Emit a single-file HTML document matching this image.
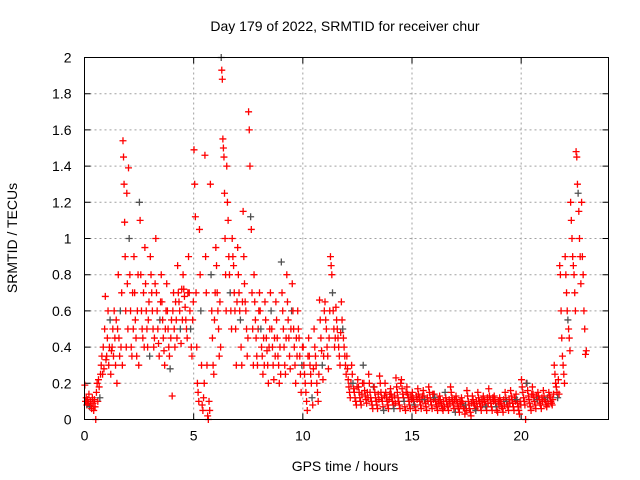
<!DOCTYPE html>
<html><head><meta charset="utf-8"><style>
body{margin:0;background:#fff}
svg{display:block;font-family:"Liberation Sans",sans-serif}
</style></head><body>
<svg id="chart" width="640" height="480" viewBox="0 0 640 480">
<text x="345" y="31" text-anchor="middle" font-size="14" fill="#000">Day 179 of 2022, SRMTID for receiver chur</text>
<text x="345" y="471" text-anchor="middle" font-size="14" fill="#000">GPS time / hours</text>
<text transform="translate(17,238) rotate(-90)" text-anchor="middle" font-size="14" fill="#000">SRMTID / TECUs</text>
<g id="grid"></g>
<g id="ticks"></g>
<g id="marks"></g>
<rect x="84.5" y="57.5" width="524" height="362" fill="none" stroke="#000" stroke-width="1"/>
</svg>
<script>
const xTicks=[0,5,10,15,20];
const yTicks=[0,0.2,0.4,0.6,0.8,1,1.2,1.4,1.6,1.8,2];
const yTickLabels=["0","0.2","0.4","0.6","0.8","1","1.2","1.4","1.6","1.8","2"];
const binWidth=0.25;
const bins=[
[.19,.1,.12,.08,.11,.09,.14,.07],[.1,.08,.06,.12,.09,.05,.11,.07],[0,.15,.2,.1,.22,.18,.12,.25],[.3,.35,.25,.4,.28,.5,.68,.33],
[.35,.45,.6,.3,.4,.55,.25,.38],[.4,.5,.35,.6,.45,.3,.55,.2],[.5,.8,.45,.35,.6,.4,.7,.3],[1.54,1.45,1.3,1.09,.9,.6,.4,1.25,.75,.5],
[1.39,1.0,.8,.6,.4,.35,.7,.5],[.9,.7,.55,.45,.35,.6,.8,.3],[1.2,1.1,.8,.6,.5,.45,.7,.4],[.95,.75,.6,.5,.4,.55,.65,.35],
[.9,.8,.7,.6,.5,.4,.45,.75],[1.0,.7,.6,.5,.42,.35,.55,.65],[.8,.65,.55,.45,.38,.3,.5,.6],[.75,.6,.5,.4,.35,.28,.45,.55],
[.13,.6,.7,.5,.4,.65,.55,.45],[.85,.7,.65,.6,.5,.42,.72,.55],[.8,.72,.68,.62,.55,.5,.45,.7],[.9,.7,.6,.5,.4,.35,.55,.65],
[1.49,1.3,1.12,.7,.4,.2,.15,.1],[1.05,.8,.6,.3,.08,.05,.12,.2],[1.46,.9,.7,.3,.02,0,.1,.05],[1.3,.8,.6,.45,.3,.25,.55,.7],
[.95,.85,.7,.6,.5,.35,.65,.4],[2.0,1.93,1.88,1.55,1.5,1.45,1.25,1.0,.8,.6],[1.4,1.2,1.1,.9,.8,.7,.6,.5],[1.0,.9,.85,.7,.6,.5,.3,.65],
[.95,.8,.7,.6,.55,.4,.3,.65],[1.15,.9,.75,.65,.6,.5,.35,.45],[1.7,1.6,1.4,1.12,1.05,.7,.5,.3],[.8,.65,.55,.45,.35,.3,.5,.6],
[.7,.6,.5,.4,.35,.25,.45,.3],[.65,.55,.45,.38,.3,.2,.4,.5],[.7,.6,.5,.4,.3,.22,.45,.35],[.65,.55,.45,.35,.3,.2,.4,.25],
[.87,.7,.6,.5,.4,.3,.25,.45],[.8,.65,.55,.45,.35,.28,.5,.6],[.75,.6,.5,.4,.3,.2,.45,.35],[.6,.5,.45,.35,.25,.15,.3,.4],
[.4,.3,.25,.2,.15,.1,.05,.35],[.45,.35,.3,.25,.2,.12,.08,.28],[.5,.4,.35,.3,.2,.15,.1,.25],[.66,.55,.45,.38,.3,.22,.35,.6],
[.65,.55,.5,.4,.35,.28,.45,.6],[.9,.85,.8,.7,.6,.5,.4,.45],[.62,.55,.5,.45,.4,.35,.3,.48],[.65,.55,.5,.45,.4,.35,.3,.25],
[.35,.28,.22,.18,.15,.12,.2,.3],[.25,.2,.17,.15,.12,.1,.08,.18],[.22,.18,.15,.12,.1,.08,.14,.2],[.3,.2,.16,.13,.11,.09,.15,.12],
[.25,.2,.15,.12,.1,.08,.06,.18],[.18,.15,.12,.1,.08,.06,.14,.11],[.24,.2,.15,.12,.1,.07,.05,.13],[.2,.15,.12,.1,.08,.06,.11,.14],
[.17,.14,.12,.1,.08,.06,.13,.09],[.23,.18,.15,.12,.1,.08,.06,.2],[.22,.17,.14,.12,.1,.07,.05,.15],[.18,.14,.12,.1,.08,.06,.13,.11],
[.15,.12,.1,.08,.07,.05,.13,.11],[.17,.14,.12,.1,.08,.06,.11,.13],[.16,.13,.11,.09,.07,.05,.12,.1],[.18,.15,.12,.1,.08,.06,.14,.11],
[.14,.12,.1,.08,.07,.05,.11,.09],[.13,.11,.09,.08,.06,.05,.1,.07],[.15,.12,.1,.08,.07,.05,.11,.09],[.18,.15,.12,.1,.08,.06,.11,.04],
[.13,.11,.09,.07,.06,.04,.1,.08],[.12,.1,.09,.07,.06,.03,.08,.05],[.16,.13,.1,.08,.06,.04,.02,.09],[.13,.11,.09,.08,.06,.05,.1,.07],
[.15,.12,.1,.09,.07,.05,.11,.08],[.13,.11,.1,.08,.07,.05,.12,.09],[.17,.13,.11,.09,.07,.05,.12,.1],[.13,.11,.09,.07,.05,.04,.1,.08],
[.12,.1,.09,.07,.06,.04,.11,.08],[.15,.12,.1,.08,.07,.05,.11,.09],[.16,.13,.11,.09,.07,.05,.12,.1],[.14,.11,.09,.07,.05,.03,.1,.08],
[.22,.18,.15,.12,.1,.08,0,.2],[.2,.16,.13,.11,.09,.07,.05,.14],[.18,.14,.12,.1,.08,.06,.13,.11],[.15,.13,.11,.09,.08,.06,.12,.1],
[.16,.13,.11,.1,.08,.07,.12,.09],[.15,.13,.12,.1,.09,.08,.11,.14],[.3,.25,.2,.18,.15,.12,.22,.14],[.85,.8,.6,.45,.35,.3,.25,.2],
[.9,.8,.7,.6,.55,.5,.45,.38],[1.2,1.1,1.0,.9,.85,.8,.7,.6],[1.48,1.45,1.3,1.25,1.15,1.0,.9,.75],[1.2,.9,.8,.6,.5,.36,.38]
];
const NS="http://www.w3.org/2000/svg";
const L=84.5,R=608.5,T=57.5,B=419.5;
const xs=v=>L+(R-L)*v/24;
const ys=v=>B-(B-T)*v/2;
function mk(tag,attrs,parent){const e=document.createElementNS(NS,tag);for(const k in attrs)e.setAttribute(k,attrs[k]);parent.appendChild(e);return e;}
const grid=document.getElementById('grid'),ticks=document.getElementById('ticks'),marks=document.getElementById('marks');
yTicks.forEach((v,i)=>{
  const y=ys(v);
  if(v>0&&v<2){const g=mk('line',{x1:L,x2:R,y1:y,y2:y,stroke:'#a0a0a0','stroke-dasharray':'2,3'},grid);
  
  }
  const t=mk('path',{d:`M${L},${y}h6M${R},${y}h-6`,stroke:'#000'},ticks);
  
  
  const lb=mk('text',{x:L-13,y:y+5,'text-anchor':'end','font-size':'14',fill:'#000'},ticks);
  lb.textContent=yTickLabels[i];
  
  
});
xTicks.forEach(v=>{
  const x=xs(v);
  if(v>0){const g=mk('line',{x1:x,x2:x,y1:T,y2:B,stroke:'#a0a0a0','stroke-dasharray':'2,3'},grid);
  
  }
  const t=mk('path',{d:`M${x},${B}v-6M${x},${T}v6`,stroke:'#000'},ticks);
  
  
  const lb=mk('text',{x:x,y:B+21,'text-anchor':'middle','font-size':'14',fill:'#000'},ticks);
  lb.textContent=String(v);
  
  
});
let k=0;
bins.forEach((vals,b)=>{
  vals.forEach((v,i)=>{
    const t=b*binWidth+(i+0.5)/vals.length*binWidth;
    const x=xs(t),y=ys(v);
    const p=mk('path',{d:`M${x-3.5},${y}h7M${x},${y-3.5}v7`,stroke:(k%15===7)?'#505050':'#ff0000','stroke-width':'1.3'},marks);
    
    
    k++;
  });
});
</script>
</body></html>
